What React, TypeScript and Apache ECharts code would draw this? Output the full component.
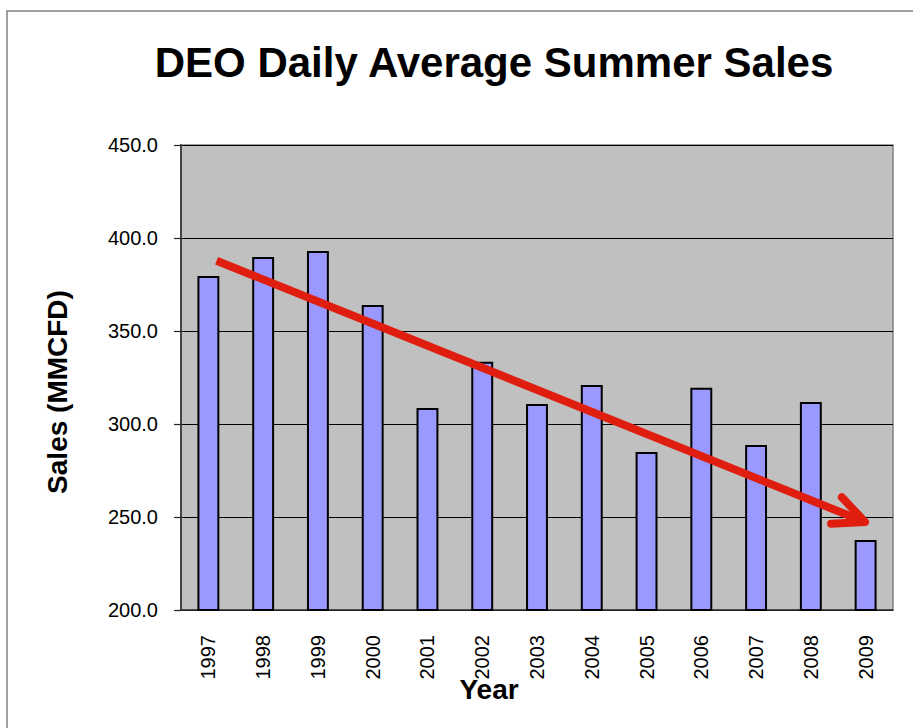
import React, { useEffect, useRef } from "react";
import * as echarts from "echarts";

const years = ["1997", "1998", "1999", "2000", "2001", "2002", "2003", "2004", "2005", "2006", "2007", "2008", "2009"];
const sales = [379.6, 389.8, 393.0, 364.0, 308.6, 333.5, 310.8, 321.0, 285.0, 319.5, 288.7, 311.8, 237.6];
const yTicks = { min: 200, max: 450, interval: 50 };
// trend arrow in data space: [x index, sales] start and end
const trendStart = [0.15, 387.8];
const trendEnd = [11.99, 247.3];

const FONT = "'Liberation Sans', Arial, sans-serif";

export default function App() {
  const ref = useRef<HTMLDivElement>(null);
  useEffect(() => {
    if (!ref.current) return;
    const chart = echarts.init(ref.current, undefined, { renderer: "svg" });
    chart.setOption({
      animation: false,
      backgroundColor: "#ffffff",
      textStyle: { fontFamily: FONT },
      grid: {
        left: 181,
        right: 20,
        top: 145,
        bottom: 118,
        show: true,
        backgroundColor: "#C0C0C0",
        borderColor: "#808080",
        borderWidth: 1.5,
      },
      xAxis: [
        {
          type: "category",
          data: years,
          axisLine: { show: true, onZero: false, lineStyle: { color: "#333", width: 1.5 } },
          axisTick: { show: false },
          axisLabel: { rotate: 90, fontSize: 20, color: "#000", margin: 25, fontFamily: FONT },
          splitLine: { show: false },
        },
        { type: "value", min: -0.5, max: 12.5, show: false },
      ],
      yAxis: {
        type: "value",
        min: yTicks.min,
        max: yTicks.max,
        interval: yTicks.interval,
        axisLine: { show: true, onZero: false, lineStyle: { color: "#444", width: 2 } },
        axisTick: { show: true, length: 7, lineStyle: { color: "#222", width: 1.2 } },
        axisLabel: {
          fontSize: 20,
          color: "#000",
          margin: 23,
          fontFamily: FONT,
          formatter: (v: number) => v.toFixed(1),
        },
        splitLine: { show: true, lineStyle: { color: "#000", width: 1 } },
      },
      graphic: [
        {
          type: "rect",
          shape: { x: 7, y: 11, width: 1000, height: 1000 },
          style: { fill: "none", stroke: "#808080", lineWidth: 1.5 },
          silent: true,
        },
        {
          type: "text",
          x: 494,
          y: 62,
          style: {
            text: "DEO Daily Average Summer Sales",
            fontSize: 42,
            fontWeight: "bold",
            fontFamily: FONT,
            fill: "#000",
            textAlign: "center",
            textVerticalAlign: "middle",
          },
        },
        {
          type: "text",
          x: 489,
          y: 689,
          style: {
            text: "Year",
            fontSize: 28,
            fontWeight: "bold",
            fontFamily: FONT,
            fill: "#000",
            textAlign: "center",
            textVerticalAlign: "middle",
          },
        },
        {
          type: "text",
          x: 57,
          y: 392,
          rotation: Math.PI / 2,
          style: {
            text: "Sales (MMCFD)",
            fontSize: 28,
            fontWeight: "bold",
            fontFamily: FONT,
            fill: "#000",
            textAlign: "center",
            textVerticalAlign: "middle",
          },
        },
      ],
      series: [
        {
          type: "bar",
          data: sales,
          barWidth: "40%",
          itemStyle: { color: "#9999FF", borderColor: "#000", borderWidth: 2 },
          z: 2,
        },
        {
          type: "custom",
          xAxisIndex: 1,
          yAxisIndex: 0,
          z: 5,
          data: [[trendStart[0], trendStart[1], trendEnd[0], trendEnd[1]]],
          encode: { x: [0, 2], y: [1, 3] },
          renderItem: (params: any, api: any) => {
            const p1 = api.coord([api.value(0), api.value(1)]);
            const p2 = api.coord([api.value(2), api.value(3)]);
            const ang = Math.atan2(p1[1] - p2[1], p1[0] - p2[0]);
            const spread = (25 * Math.PI) / 180;
            const len = 34;
            const a1 = [p2[0] + len * Math.cos(ang + spread), p2[1] + len * Math.sin(ang + spread)];
            const a2 = [p2[0] + len * Math.cos(ang - spread), p2[1] + len * Math.sin(ang - spread)];
            const red = "#E01E10";
            return {
              type: "group",
              children: [
                {
                  type: "line",
                  shape: { x1: p1[0], y1: p1[1], x2: p2[0], y2: p2[1] },
                  style: { stroke: red, lineWidth: 8, lineCap: "butt" },
                },
                {
                  type: "polyline",
                  shape: { points: [a1, p2, a2] },
                  style: { stroke: red, lineWidth: 8, lineCap: "round", lineJoin: "round", fill: "none" },
                },
              ],
            };
          },
        },
      ],
    });
    return () => chart.dispose();
  }, []);
  return (
    <div
      ref={ref}
      style={{ position: "absolute", left: 0, top: 0, width: 913, height: 728 }}
    />
  );
}
